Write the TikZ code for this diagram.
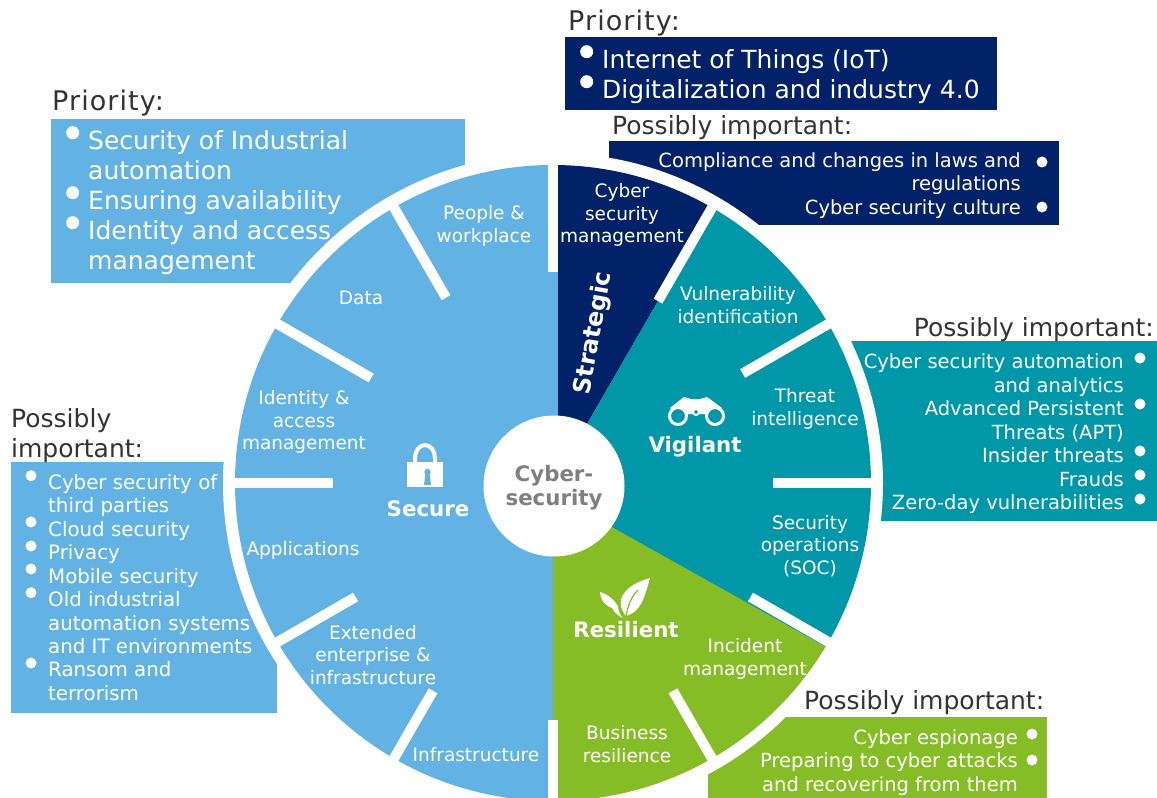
\documentclass[tikz,border=0pt]{standalone}
\usepackage{fontspec}
\setmainfont{DejaVu Sans}
\newfontfamily\priofont[LetterSpace=4]{DejaVu Sans}
\definecolor{skyblue}{HTML}{62B3E4}
\definecolor{navyblue}{HTML}{012169}
\definecolor{tealblue}{HTML}{0097A9}
\definecolor{leafgreen}{HTML}{86BC25}
\definecolor{headgrey}{HTML}{333333}
\definecolor{coregrey}{HTML}{7F7F7F}
\tikzset{
  box/.style={fill=#1},
  head/.style={text=headgrey, inner sep=0pt, anchor=west, yshift=-2pt, font=\fontsize{25}{30}\selectfont},
  priohead/.style={head, font=\priofont\fontsize{27}{30}\selectfont},
  bigtext/.style={text=white, inner sep=0pt, anchor=west, align=left, yshift=-2pt, font=\fontsize{25}{30}\selectfont},
  lefttext/.style={text=white, inner sep=0pt, anchor=west, align=left, font=\fontsize{19.8}{23.45}\selectfont},
  righttext/.style={text=white, inner sep=0pt, anchor=east, align=right, yshift=-2pt, font=\fontsize{19.5}{23.5}\selectfont},
  wheeltext/.style={text=white, inner sep=0pt, align=center, yshift=-1pt, font=\fontsize{18.5}{22.3}\selectfont},
  titletext/.style={text=white, inner sep=0pt, align=center, font=\bfseries\fontsize{21.3}{24}\selectfont},
}
\begin{document}
\begin{tikzpicture}[x=1pt,y=-1pt]
      \useasboundingbox (0,0) rectangle (1157,798);
      \clip (0,0) rectangle (1157,798);
      \fill[box=skyblue] (51,119) rectangle (465,283);
      \fill[box=navyblue] (565,37) rectangle (997,110);
      \fill[box=navyblue] (609,141) rectangle (1059,225);
      \fill[box=tealblue] (850,341) rectangle (1157,521);
      \fill[box=skyblue] (11,462) rectangle (277,713);
      \fill[box=leafgreen] (708,717) rectangle (1047,798);
      \begin{scope}[shift={(553,483)},y=1pt]
        \fill[white] (0,0) circle (330);
        \fill[navyblue] (0,0) -- (60:318) arc (60:90:318) -- cycle;
        \fill[tealblue] (0,0) -- (0,-20) -- (-31:318) arc (-31:60:318) -- cycle;
        \fill[leafgreen] (0,-11) -- (-31:318) arc (-31:-90:318) -- cycle;
        \fill[skyblue] (0,0) -- (90:318) arc (90:270:318) -- cycle;
        \fill[skyblue] (-5,212) rectangle (5,-70);
        \foreach \ang/\rad in {90/211, 120/214, 150/210, 180/220, 210/228, 240/240, 270/237, 60/210, 30/219, 0/220, -30/228, -60/240}
          \draw[white, line width=10pt] (\ang:\rad) -- (\ang:325);
      \end{scope}
      \fill[white] (554,486) circle (70.5);

      \foreach \px/\py in {72.7/132.7, 72.7/192.7, 72.7/222.7, 586.7/51.7, 586.7/81.7}
        \fill[white] (\px,\py) circle (6.5);
      \foreach \px/\py in {1042/162, 1042/207, 1140/358, 1140/404, 1140/451, 1140/475, 1140/499, 31/475.7, 31/522, 31/546, 31/569, 31/592.7, 31/663, 1032/734, 1032/760}
        \fill[white] (\px,\py) circle (5.5);

      \node[priohead] (prioritya) at (52,101) {Priority:};
      \node[priohead] (priorityb) at (568,21) {Priority:};
      \node[head] (possiblya) at (612,126) {Possibly important:};
      \node[head, anchor=east] (possiblyb) at (1154,328) {Possibly important:};
      \node[head, anchor=west] (possiblyc) at (804,701) {Possibly important:};
      \node[head, align=left] (possiblyd) at (11,434) {Possibly\\important:};

      \node[bigtext] (secprio) at (88,200.5) {Security of Industrial\\automation\\Ensuring availability\\Identity and access\\management};
      \node[bigtext] (topprio) at (602,75) {Internet of Things (IoT)\\Digitalization and industry 4.0};
      \node[righttext] (lawtext) at (1021,183.5) {Compliance and changes in laws and\\regulations\\Cyber security culture};
      \node[righttext] (vigtext) at (1124,432) {Cyber security automation\\and analytics\\Advanced Persistent\\Threats (APT)\\Insider threats\\Frauds\\Zero-day vulnerabilities};
      \node[lefttext] (thirdtext) at (48,587.5) {Cyber security of\\third parties\\Cloud security\\Privacy\\Mobile security\\Old industrial\\automation systems\\and IT environments\\Ransom and\\terrorism};
      \node[righttext] (restext) at (1018,760.5) {Cyber espionage\\Preparing to cyber attacks\\and recovering from them};

      \node[wheeltext] (people) at (484,225) {People \&\\workplace};
      \node[wheeltext] (data) at (361,297) {Data};
      \node[wheeltext] (identity) at (304,421) {Identity \&\\access\\management};
      \node[wheeltext] (apps) at (303,549) {Applications};
      \node[wheeltext] (extended) at (373,654) {Extended\\enterprise \&\\infrastructure};
      \node[wheeltext] (infra) at (476,754) {Infrastructure};
      \node[wheeltext] (cybman) at (622,214) {Cyber\\security\\management};
      \node[wheeltext] (vuln) at (738,304) {Vulnerability\\identification};
      \node[wheeltext] (threat) at (805,408) {Threat\\intelligence};
      \node[wheeltext] (soc) at (810,545) {Security\\operations\\(SOC)};
      \node[wheeltext] (incident) at (745,658) {Incident\\management};
      \node[wheeltext] (business) at (627,743) {Business\\resilience};

      \node[titletext, rotate=80, font=\bfseries\fontsize{24}{28}\selectfont] (strategic) at (594,333) {Strategic};
      \node[titletext] (secure) at (428,509) {Secure};
      \node[titletext] (vigilant) at (695,447) {Vigilant};
      \node[titletext] (resilient) at (626,630) {Resilient};
      \node[titletext, text=coregrey] (core) at (554,488) {Cyber-\\security};

      \fill[white] (407,462) rectangle (443,487);
      \draw[white, line width=4pt] (415,462) -- (415,458) arc (180:360:10 and 13) -- (435,462);
      \fill[skyblue] (425.5,473) -- (424,485) -- (431,485) -- (429.5,473) -- cycle;
      \fill[skyblue] (427.5,472) circle (3.2);

      \fill[white] (670,408) -- (684,397) -- (691,399) -- (700,399) -- (707,397) -- (722,408) -- (712,414) -- (681,414) -- cycle;
      \draw[white, fill=tealblue, line width=3pt] (678,416) circle (8.5);
      \draw[white, fill=tealblue, line width=3pt] (715,416) circle (8.5);
      \draw[white, fill=tealblue, line width=2pt] (696,412) circle (3);

      \fill[white] (626,616) .. controls (613,600) and (625,585) .. (650,578) .. controls (644,600) and (640,612) .. (626,616) -- cycle;
      \draw[leafgreen, line width=1.2pt] (626,617) .. controls (628,604) and (632,596) .. (638,590);
      \fill[white] (612,608) .. controls (603,605) and (600,597) .. (600,592) .. controls (608,594) and (614,600) .. (618,606) .. controls (618,612) and (621,616) .. (623,618) .. controls (618,616) and (614,612) .. (612,608) -- cycle;
\end{tikzpicture}
\end{document}
